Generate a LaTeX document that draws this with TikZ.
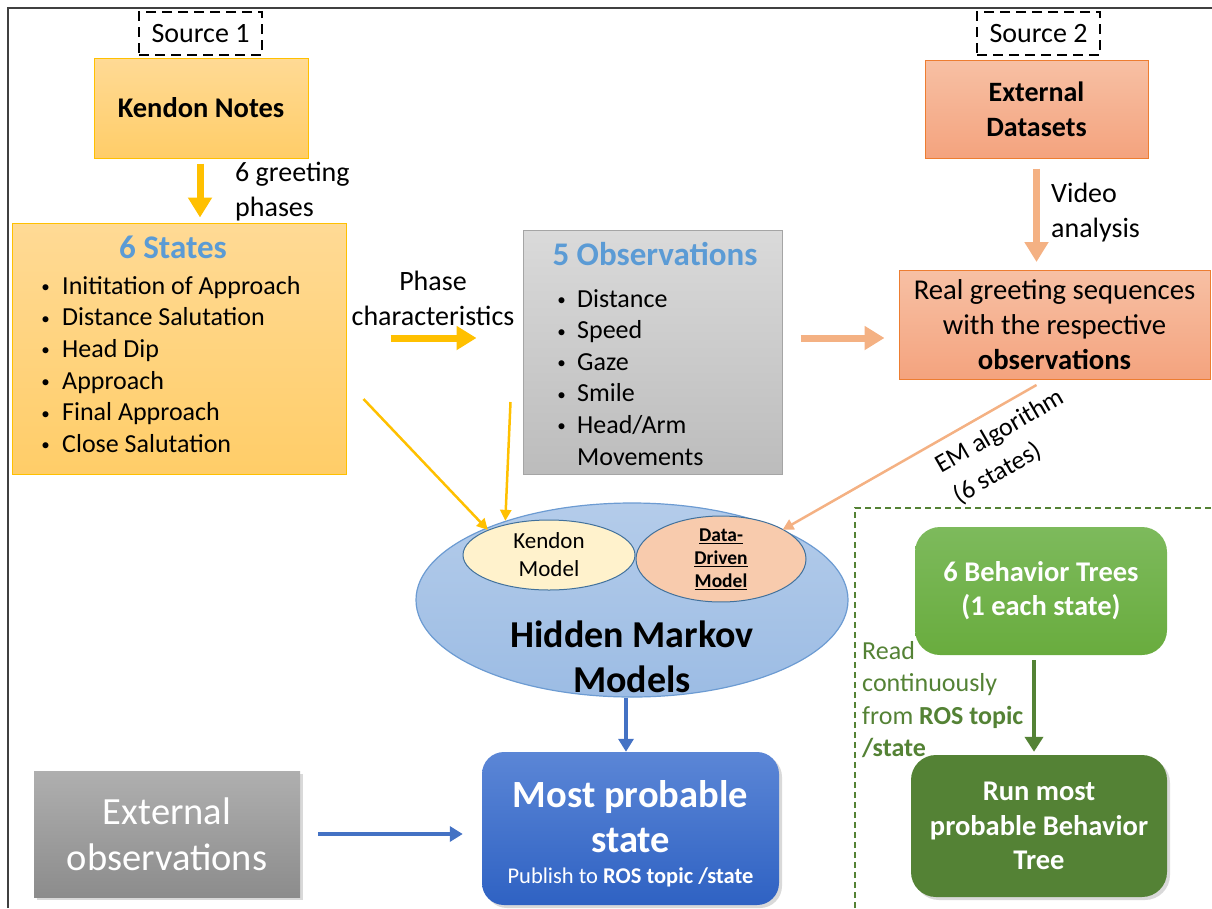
\documentclass[tikz,border=0pt]{standalone}
\usepackage{fontspec}
\setmainfont{Carlito}
\usetikzlibrary{arrows.meta,shadows,shapes.geometric}
\newcommand{\fsz}[2]{\fontsize{#1}{#2}\selectfont}
\newcommand{\bul}{\raisebox{1.5pt}{\fsz{17}{17}\textbullet}}
\definecolor{goldB}{HTML}{FFC000}
\definecolor{goldT}{HTML}{FFDA95}
\definecolor{goldBot}{HTML}{FFCD68}
\definecolor{stateblue}{HTML}{5B9BD5}
\definecolor{obsT}{HTML}{DADADA}
\definecolor{obsB}{HTML}{BCBCBC}
\definecolor{obsline}{HTML}{A5A5A5}
\definecolor{salT}{HTML}{F7C0A4}
\definecolor{salB}{HTML}{F4A37E}
\definecolor{salline}{HTML}{ED7D31}
\definecolor{salarrow}{HTML}{F4B183}
\definecolor{hmmT}{HTML}{B4CCEA}
\definecolor{hmmB}{HTML}{9CBCE4}
\definecolor{hmmline}{HTML}{6C9BD2}
\definecolor{kfill}{HTML}{FFF2CC}
\definecolor{dfill}{HTML}{F8CBAD}
\definecolor{ellline}{HTML}{41719C}
\definecolor{mpT}{HTML}{5B86D6}
\definecolor{mpB}{HTML}{2F62C3}
\definecolor{exT}{HTML}{AFAFAF}
\definecolor{exB}{HTML}{8C8C8C}
\definecolor{btT}{HTML}{7DBA5C}
\definecolor{btB}{HTML}{69AC3E}
\definecolor{dgreen}{HTML}{548235}
\definecolor{arrowblue}{HTML}{4472C4}
\begin{document}
\begin{tikzpicture}[x=1pt,y=-1pt,
  frame/.style={draw=black!75, line width=1.5pt},
  srcbox/.style={draw=black, line width=2.5pt, dash pattern=on 10pt off 6pt,
    minimum width=123pt, minimum height=43pt, inner sep=0pt, font=\fsz{28}{33}},
  ybox/.style={draw=goldB, line width=1pt, top color=goldT, bottom color=goldBot, inner sep=0pt},
  gbox/.style={draw=obsline, line width=1pt, top color=obsT, bottom color=obsB, inner sep=0pt},
  sbox/.style={draw=salline, line width=1pt, top color=salT, bottom color=salB, inner sep=0pt},
  shadowed/.style={drop shadow={opacity=0.3, shadow xshift=3pt, shadow yshift=-3pt}},
  title/.style={font=\fsz{33}{39}\bfseries, text=stateblue, inner sep=0pt},
  blist/.style={font=\fsz{26}{31.6}, align=left, anchor=north west, inner sep=0pt},
  lbl/.style={font=\fsz{28}{35}, inner sep=0pt},
  bigyellow/.style={draw=goldB, line width=7pt, -{Triangle[width=23pt,length=20pt]}},
  bigsalmon/.style={draw=salarrow, line width=7pt, -{Triangle[width=23pt,length=20pt]}},
  thinyellow/.style={draw=goldB, line width=2.5pt, -{Triangle[width=11pt,length=11pt]}},
  thinsalmon/.style={draw=salarrow, line width=2.5pt, -{Triangle[width=11pt,length=11pt]}},
  bluearrow/.style={draw=arrowblue, line width=4pt, -{Triangle[width=15pt,length=13pt]}},
  greenarrow/.style={draw=dgreen, line width=4.5pt, -{Triangle[width=18pt,length=15pt]}},
  wtxt/.style={text=white, inner sep=0pt, align=center}
]
\useasboundingbox (0,0) rectangle (1212,908);
% outer frame
\draw[frame] (8,908) -- (8,8) -- (1212,8);
% dashed region around the behavior trees
\draw[draw=dgreen, line width=1.5pt, dash pattern=on 6pt off 4pt] (855,908) -- (855,508) -- (1212,508);

% sources
\node[srcbox] (src1) at (200.5,33.5) {Source 1};
\node[srcbox] (src2) at (1038.5,33.5) {Source 2};

% Kendon notes and the six states
\node[ybox, minimum width=214pt, minimum height=100pt, font=\fsz{28.5}{33}\bfseries] (kendon) at (201,108) {Kendon Notes};
\node[ybox, minimum width=334pt, minimum height=251pt] (states) at (179,348.5) {};
\node[title] (sttitle) at (173,247) {6 States};
\node[blist] (stlist) at (29,276) {%
  \makebox[33pt][c]{\bul}Inititation of Approach\\
  \makebox[33pt][c]{\bul}Distance Salutation\\
  \makebox[33pt][c]{\bul}Head Dip\\
  \makebox[33pt][c]{\bul}Approach\\
  \makebox[33pt][c]{\bul}Final Approach\\
  \makebox[33pt][c]{\bul}Close Salutation};

% observations
\node[gbox, minimum width=259pt, minimum height=244pt] (obs) at (652.5,352) {};
\node[title] (obtitle) at (655,254) {5 Observations};
\node[blist] (oblist) at (546,289) {%
  \makebox[31pt][c]{\bul}Distance\\
  \makebox[31pt][c]{\bul}Speed\\
  \makebox[31pt][c]{\bul}Gaze\\
  \makebox[31pt][c]{\bul}Smile\\
  \makebox[31pt][c]{\bul}Head/Arm\\
  \makebox[31pt][c]{}Movements};

% external data
\node[sbox, minimum width=223pt, minimum height=98pt, font=\fsz{28}{35}\bfseries, align=center] (ext) at (1036.5,109) {External\\Datasets};
\node[sbox, minimum width=311pt, minimum height=109pt, font=\fsz{28.7}{35}, align=center] (real) at (1054.5,325)
  {Real greeting sequences\\with the respective\\\textbf{observations}};

% hidden Markov models
\node[ellipse, draw=hmmline, line width=1.2pt, top color=hmmT, bottom color=hmmB,
  minimum width=432pt, minimum height=194pt, inner sep=0pt] (hmm) at (632,600) {};
\node[ellipse, draw=ellline, line width=1pt, fill=kfill, minimum width=172pt, minimum height=70pt,
  inner sep=0pt, font=\fsz{23}{28}, align=center] (km) at (549,555) {Kendon\\Model};
\node[ellipse, draw=ellline, line width=1pt, fill=dfill, minimum width=170pt, minimum height=69pt,
  inner sep=0pt, font=\fsz{19.5}{23}\bfseries, align=center] (dm) at (721,559)
  {\underline{Data-}\\\underline{Driven}\\\underline{Model}};
\node[font=\fsz{38}{45}\bfseries, align=center, inner sep=0pt] (hmmtxt) at (632,656.5) {Hidden Markov\\Models};

% most probable state
\node[rounded corners=22pt, top color=mpT, bottom color=mpB, shadowed,
  minimum width=297pt, minimum height=153pt] (most) at (630.5,828.5) {};
\node[wtxt, font=\fsz{38.5}{45}\bfseries] (mosttxt) at (630.5,817) {Most probable\\state};
\node[wtxt, font=\fsz{22.5}{26}] (mostsub) at (630.5,877) {Publish to \textbf{ROS topic /state}};

% external observations
\node[top color=exT, bottom color=exB, shadowed, minimum width=266pt, minimum height=126pt,
  wtxt, font=\fsz{38.5}{46}] (extobs) at (167,834) {External\\observations};

% behavior trees
\node[rounded corners=25pt, top color=btT, bottom color=btB, minimum width=252pt, minimum height=128pt,
  wtxt, font=\fsz{28.5}{34}\bfseries] (bt6) at (1041,591) {6 Behavior Trees\\(1 each state)};
\node[rounded corners=25pt, fill=dgreen, shadowed, minimum width=256pt, minimum height=142pt,
  wtxt, font=\fsz{28.5}{34.5}\bfseries] (run) at (1039,826) {Run most\\probable Behavior\\Tree};

% labels
\node[lbl, align=left, anchor=west] (lgreet) at (235,192) {6 greeting\\phases};
\node[lbl, align=center] (lphase) at (433,298.5) {Phase\\characteristics};
\node[lbl, align=left, anchor=west] (lvideo) at (1051,213) {Video\\analysis};
\node[font=\fsz{26}{35}, align=left, rotate=30, inner sep=0pt] (lem) at (1009,447) {EM algorithm\\(6 states)};
\node[font=\fsz{26}{32.5}, text=dgreen, align=left, anchor=north west, inner sep=0pt] (lread) at (862,641)
  {Read\\continuously\\from \textbf{ROS topic}\\\textbf{/state}};

% connectors
\coordinate (yphase) at (0,338);
\coordinate (xkend) at (200,0);
\draw[bigyellow, shorten <=5pt, shorten >=5pt] (kendon.south -| xkend) -- (states.north -| xkend);
\draw[bigyellow, shorten <=44pt, shorten >=46pt] (states.east |- yphase) -- (obs.west |- yphase);
\draw[bigsalmon, shorten <=18pt, shorten >=14pt] (obs.east |- yphase) -- (real.west |- yphase);
\draw[bigsalmon, shorten <=10pt, shorten >=8pt] (ext.south) -- (ext.south |- real.north);
\draw[thinyellow] ([shift={(17,50.5)}]states.east) -- (km.north west);
\draw[thinyellow] ([shift={(-12,50)}]obs.west) -- (hmm.148);
\draw[thinsalmon] ([shift={(-18,5)}]real.south) -- (hmm.25);
\draw[bluearrow] ([xshift=-6pt]hmm.south) -- ([xshift=-6pt]hmm.south |- most.north);
\draw[bluearrow, shorten <=18pt, shorten >=19pt] (extobs.east) -- (extobs.east -| most.west);
\draw[greenarrow, shorten <=5pt, shorten >=3pt] ([xshift=-7pt]bt6.south) -- ([xshift=-7pt]bt6.south |- run.north);
\end{tikzpicture}
\end{document}
